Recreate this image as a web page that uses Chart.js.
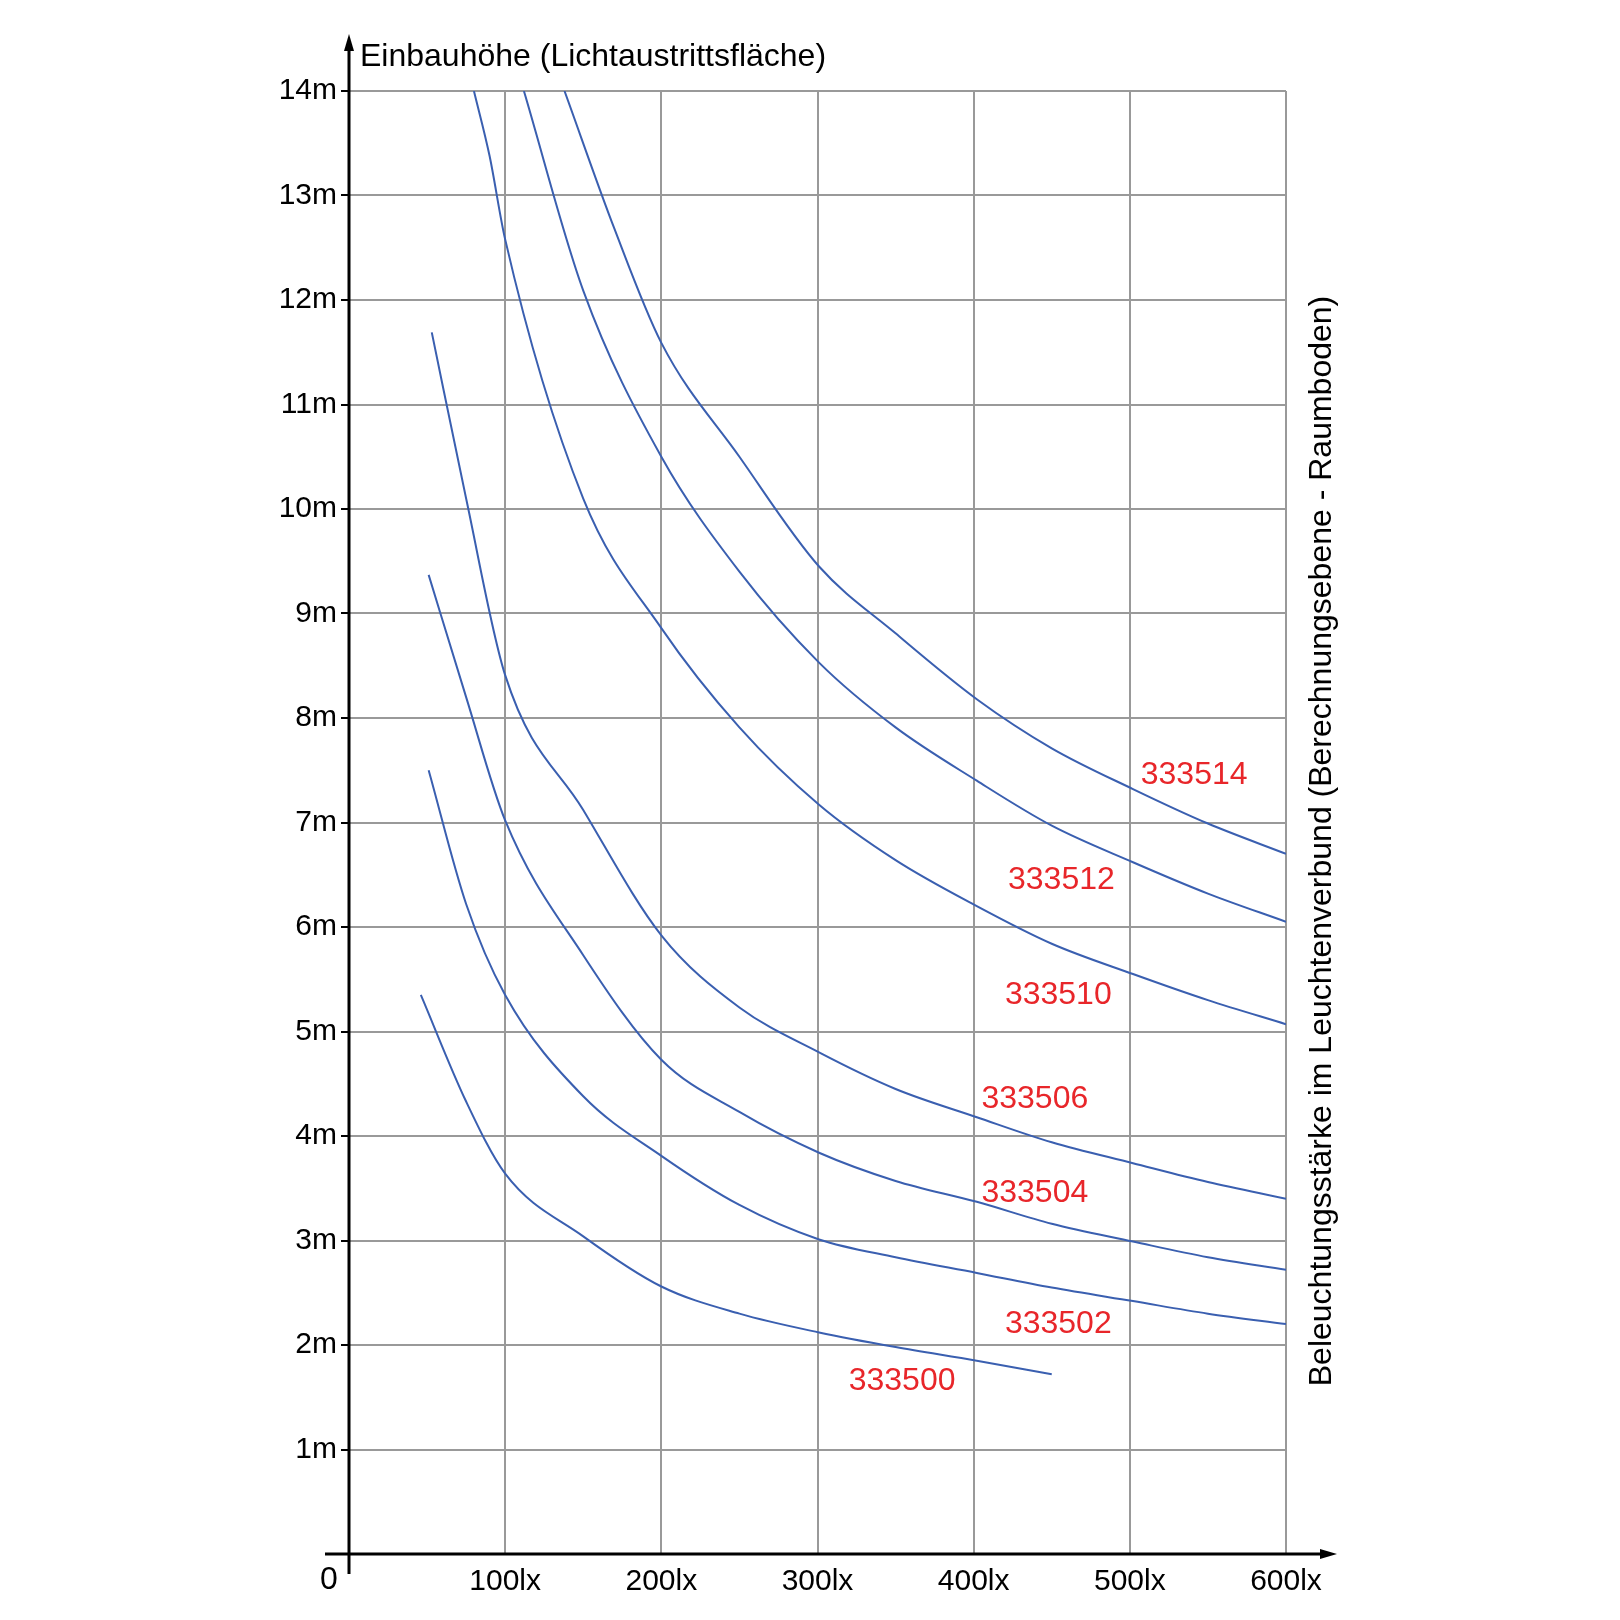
<!DOCTYPE html>
<html>
<head>
<meta charset="utf-8">
<script src="https://cdn.jsdelivr.net/npm/chart.js@4/dist/chart.umd.min.js"></script>
<style>
  html, body { margin: 0; padding: 0; background: #fff; }
  #wrap { width: 1620px; height: 1620px; }
</style>
</head>
<body>
<div id="wrap"><canvas id="chart"></canvas></div>
<script>
// Beleuchtungsstärke (lx) und Einbauhöhe (m)
var seriesNames = ["333500", "333502", "333504", "333506", "333510", "333512", "333514"];
var luxValues = [
    [46, 75, 100, 150, 200, 250, 301, 350, 402, 450],
    [51, 75, 100, 150, 200, 250, 301, 350, 402, 450, 502, 550, 600],
    [51, 75, 100, 150, 200, 250, 301, 350, 402, 450, 502, 550, 600],
    [53, 75, 100, 150, 200, 250, 301, 350, 402, 450, 502, 550, 600],
    [80, 90, 100, 150, 200, 250, 301, 350, 402, 450, 502, 550, 600],
    [112, 150, 200, 250, 301, 350, 402, 450, 502, 550, 600],
    [138, 170, 200, 250, 301, 350, 402, 450, 502, 550, 600]
];
var heightValues = [
    [5.35, 4.33, 3.64, 3.04, 2.56, 2.3, 2.12, 1.98, 1.85, 1.72],
    [7.5, 6.22, 5.35, 4.38, 3.81, 3.34, 3.01, 2.84, 2.69, 2.55, 2.42, 2.3, 2.2],
    [9.37, 8.2, 7.02, 5.73, 4.73, 4.23, 3.84, 3.57, 3.37, 3.16, 2.99, 2.84, 2.72],
    [11.69, 10.1, 8.41, 7.12, 5.92, 5.23, 4.8, 4.45, 4.18, 3.94, 3.74, 3.56, 3.4],
    [14, 13.38, 12.58, 10.1, 8.86, 7.91, 7.17, 6.64, 6.2, 5.84, 5.55, 5.3, 5.07],
    [14, 12.09, 10.5, 9.4, 8.53, 7.91, 7.4, 6.97, 6.62, 6.32, 6.05],
    [14, 12.68, 11.59, 10.5, 9.45, 8.81, 8.18, 7.71, 7.32, 6.99, 6.7]
];
// Beschriftung (lx, m)
var labelLux = [320, 420, 405, 405, 420, 422, 507];
var labelHeight = [1.65, 2.2, 3.45, 4.35, 5.35, 6.45, 7.45];

var datasets = [];
for (var i = 0; i < seriesNames.length; i++) {
    var pts = [];
    for (var j = 0; j < luxValues[i].length; j++) {
        pts.push({ x: luxValues[i][j], y: heightValues[i][j] });
    }
    datasets.push({
        label: seriesNames[i],
        data: pts,
        showLine: true,
        borderColor: "#3a5fb0",
        borderWidth: 2,
        pointRadius: 0,
        cubicInterpolationMode: "monotone",
        fill: false
    });
}

var extras = {
    id: "extras",
    afterDraw: function(chart) {
        var c = chart.ctx, a = chart.chartArea;
        var xs = chart.scales.x, ys = chart.scales.y;
        c.save();
        // Achsen mit Pfeilen
        c.strokeStyle = "#000"; c.fillStyle = "#000"; c.lineWidth = 3;
        c.beginPath();
        c.moveTo(a.left, a.bottom + 20); c.lineTo(a.left, 44);
        c.moveTo(a.left - 24, a.bottom); c.lineTo(1325, a.bottom);
        c.stroke();
        c.beginPath();
        c.moveTo(a.left, 34); c.lineTo(a.left - 5, 51); c.lineTo(a.left + 5, 51); c.closePath(); c.fill();
        c.beginPath();
        c.moveTo(1337, a.bottom); c.lineTo(1320, a.bottom - 5); c.lineTo(1320, a.bottom + 5); c.closePath(); c.fill();

        c.font = "32px 'Liberation Sans', Arial";
        c.textBaseline = "middle";
        c.fillText("Einbauhöhe (Lichtaustrittsfläche)", 360, 57);
        c.fillText("0", 320, 1580);
        c.save();
        c.translate(1322, 841); c.rotate(-Math.PI / 2);
        c.textAlign = "center";
        c.fillText("Beleuchtungsstärke im Leuchtenverbund (Berechnungsebene - Raumboden)", 0, 0);
        c.restore();

        c.fillStyle = "#e8262a";
        c.font = "32px 'Liberation Sans', Arial";
        c.textAlign = "left";
        for (var i = 0; i < seriesNames.length; i++) {
            c.fillText(seriesNames[i], xs.getPixelForValue(labelLux[i]), ys.getPixelForValue(labelHeight[i]));
        }
        c.restore();
    }
};

new Chart(document.getElementById("chart"), {
    type: "scatter",
    data: { datasets: datasets },
    plugins: [extras],
    options: {
        responsive: true,
        maintainAspectRatio: false,
        animation: false,
        layout: { padding: { left: 0, top: 91, right: 334, bottom: 0 } },
        plugins: { legend: { display: false }, tooltip: { enabled: false } },
        scales: {
            x: {
                type: "linear", min: 0, max: 600,
                afterFit: function(s) { s.height = 66; },
                border: { display: false },
                grid: { color: "#999", lineWidth: 2, drawTicks: false },
                ticks: {
                    stepSize: 100, color: "#000", padding: 10,
                    font: { size: 30, family: "'Liberation Sans', Arial" },
                    callback: function(v) { return v === 0 ? "" : v + "lx"; }
                }
            },
            y: {
                type: "linear", min: 0, max: 14,
                afterFit: function(s) { s.width = 349; },
                border: { display: false },
                grid: { color: "#999", lineWidth: 2, tickLength: 8, tickColor: "#000" },
                ticks: {
                    stepSize: 1, color: "#000", padding: 4,
                    font: { size: 30, family: "'Liberation Sans', Arial" },
                    callback: function(v) { return v === 0 ? "" : v + "m"; }
                }
            }
        }
    }
});
</script>
</body>
</html>
